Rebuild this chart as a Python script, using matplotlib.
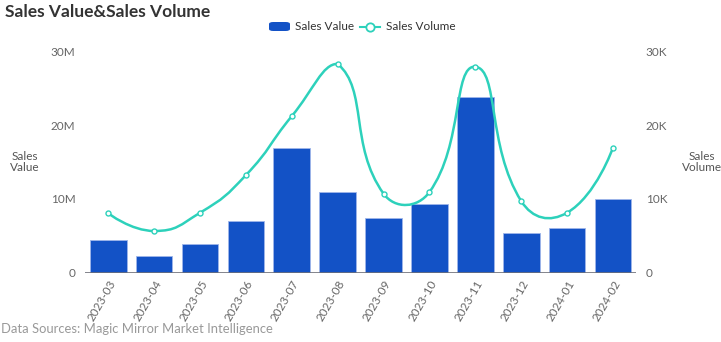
import numpy as np
import matplotlib.pyplot as plt
from matplotlib.path import Path
from matplotlib.patches import PathPatch, FancyBboxPatch
from matplotlib.lines import Line2D

plt.rcParams['font.family'] = ['Lato', 'DejaVu Sans']

months = ['2023-03', '2023-04', '2023-05', '2023-06', '2023-07', '2023-08',
          '2023-09', '2023-10', '2023-11', '2023-12', '2024-01', '2024-02']
sales_value = [4.45e6, 2.2e6, 3.9e6, 6.95e6, 16.9e6, 10.9e6,
               7.4e6, 9.3e6, 23.8e6, 5.35e6, 6.0e6, 9.95e6]
sales_volume = [8030, 5630, 8100, 13200, 21200, 28300,
                10700, 10900, 27900, 9700, 8100, 16900]

bar_color = '#1352c6'
line_color = '#2dd1bb'
tick_color = '#666666'

fig = plt.figure(figsize=(7.21, 3.42), dpi=100)
ax = fig.add_axes([0.1183, 0.2032, 0.7636, 0.6468])
ax2 = ax.twinx()

x = np.arange(len(months))
ax.bar(x, sales_value, width=0.8, color=bar_color, edgecolor='#9fb6ea',
       linewidth=0.6, zorder=2)
ax.set_xlim(-0.5, len(months) - 0.5)
ax.set_ylim(0, 30e6)
ax.set_yticks([0, 10e6, 20e6, 30e6])
ax.set_yticklabels(['0', '10M', '20M', '30M'])
ax2.set_ylim(0, 30000)
ax2.set_yticks([0, 10000, 20000, 30000])
ax2.set_yticklabels(['0', '10K', '20K', '30K'])

ax.set_xticks(x)
ax.set_xticklabels(months, rotation=60, ha='right', rotation_mode='anchor')

for a in (ax, ax2):
    for s in ('top', 'left', 'right', 'bottom'):
        a.spines[s].set_visible(False)
    a.tick_params(axis='y', length=0, pad=7, labelsize=8.5, colors=tick_color)
ax.tick_params(axis='x', length=0, pad=4, labelsize=8.5, colors=tick_color)
ax.axhline(0, color='#6e7079', linewidth=1.2, zorder=3)

# smoothed line, echarts style: bezier in pixel space, control points
# kept inside the bounding box of all points
pts = ax2.transData.transform(np.column_stack([x, sales_volume]))
smooth = 0.5
lo = pts.min(axis=0)
hi = pts.max(axis=0)
n = len(pts)
verts = [pts[0]]
codes = [Path.MOVETO]
cp0 = pts[0].copy()
for i in range(1, n):
    p = pts[i]
    prv = pts[i - 1]
    if i < n - 1:
        nxt = pts[i + 1]
        v = nxt - prv
        d_prev = np.hypot(*(p - prv))
        d_next = np.hypot(*(nxt - p))
        r = d_next / (d_next + d_prev)
        cp1 = p - v * smooth * (1 - r)
    else:
        cp1 = p.copy()
    cp0 = np.clip(cp0, lo, hi)
    cp1 = np.clip(cp1, lo, hi)
    verts += [cp0, cp1, p]
    codes += [Path.CURVE4] * 3
    if i < n - 1:
        cp0 = p + v * smooth * r
verts = ax2.transData.inverted().transform(np.array(verts))
ax2.add_patch(PathPatch(Path(verts, codes), facecolor='none',
                        edgecolor=line_color, linewidth=1.8, zorder=4))
ax2.plot(x, sales_volume, linestyle='none', marker='o', markersize=3.6,
         markerfacecolor='white', markeredgecolor=line_color,
         markeredgewidth=1.0, zorder=5)

# axis names
fig.text(25 / 721, 1 - 162 / 342, 'Sales\nValue', ha='center', va='center',
         fontsize=8.5, color='#555555', linespacing=0.95)
fig.text(702 / 721, 1 - 162 / 342, 'Sales\nVolume', ha='center', va='center',
         fontsize=8.5, color='#555555', linespacing=0.95)

# title
fig.text(5 / 721, 1 - 12 / 342, 'Sales Value&Sales Volume', ha='left',
         va='center', fontsize=12.5, fontweight='bold', color='#333333')

# legend
fig.patches.append(FancyBboxPatch((269 / 721, 1 - 31 / 342), 21 / 721, 9 / 342,
                                  boxstyle='round,pad=0,rounding_size=0.006',
                                  transform=fig.transFigure, facecolor=bar_color,
                                  edgecolor='none'))
fig.text(295 / 721, 1 - 27 / 342, 'Sales Value', ha='left', va='center',
         fontsize=8.5, color='#333333')
fig.lines.append(Line2D([360 / 721, 380 / 721], [1 - 27 / 342] * 2,
                        transform=fig.transFigure, color=line_color,
                        linewidth=1.5))
fig.lines.append(Line2D([370 / 721], [1 - 27 / 342], transform=fig.transFigure,
                        marker='o', markersize=6, markerfacecolor='white',
                        markeredgecolor=line_color, markeredgewidth=1.3))
fig.text(386 / 721, 1 - 27 / 342, 'Sales Volume', ha='left', va='center',
         fontsize=8.5, color='#333333')

# source
fig.text(1 / 721, 1 - 329 / 342, 'Data Sources: Magic Mirror Market Intelligence',
         ha='left', va='center', fontsize=9.4, color='#999999')

fig.savefig('out.png', dpi=100)
